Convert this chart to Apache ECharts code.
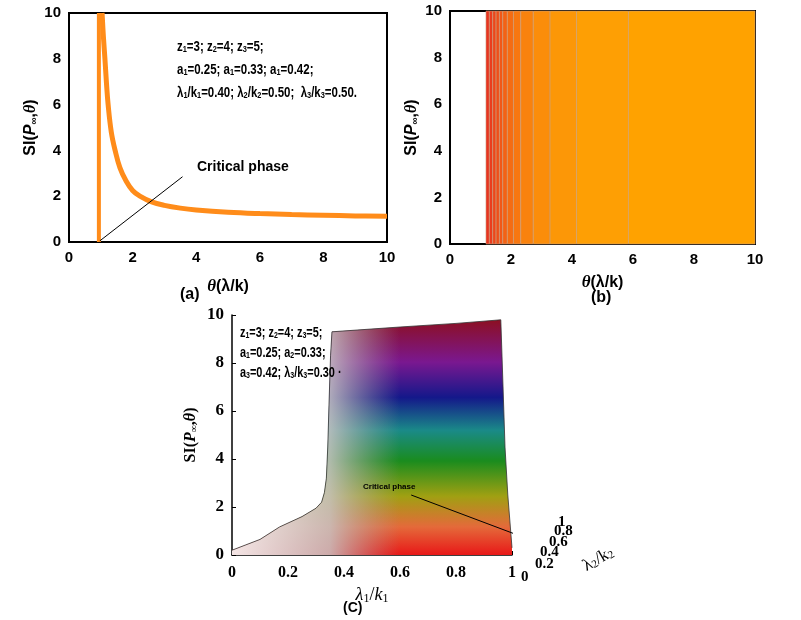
<!DOCTYPE html>
<html>
<head>
<meta charset="utf-8">
<script src="https://cdn.jsdelivr.net/npm/echarts@6/dist/echarts.min.js"></script>
<style>html,body{margin:0;background:#fff}#main{width:801px;height:620px}</style>
</head>
<body>
<div id="main"></div>
<script>
(() => {
  // panel (a): SI vs theta
  const aWall = [[0.94, 0], [0.94, 10]];
  const aCurve = [[1.04, 10], [1.08, 9], [1.13, 8], [1.18, 6.9], [1.23, 6], [1.33, 4.8], [1.45, 4],
    [1.6, 3.25], [1.8, 2.65], [2.0, 2.25], [2.23, 2.0], [2.6, 1.75], [3.0, 1.6], [3.5, 1.48],
    [4.0, 1.4], [5.0, 1.3], [6.0, 1.24], [7.0, 1.2], [8.0, 1.17], [9.0, 1.14], [10.0, 1.12]];
  const aCritical = [[0.97, 0.05], [3.57, 2.85]];

  // panel (b): vertical bands (theta boundaries), red -> orange
  const bBounds = [1.18, 1.29, 1.40, 1.51, 1.62, 1.73, 1.88, 2.08, 2.32, 2.73, 3.28, 4.15, 5.85, 10];
  const bColors = ['#e8341f', '#ea3d1d', '#ed461b', '#ef4f19', '#f15817', '#f36215', '#f56c12',
    '#f77710', '#f9820d', '#fb8d0a', '#fc9707', '#fe9f04', '#ffa200'];

  // panel (c): front profile of the surface
  const cSurface = [[0, 0.2], [0.1, 0.65], [0.17, 1.17], [0.25, 1.6], [0.3, 1.95], [0.32, 2.2],
    [0.33, 2.6], [0.337, 3.2], [0.342, 4.5], [0.347, 6.5], [0.352, 8.3], [0.357, 9.3], [0.6, 9.5],
    [0.8, 9.65], [0.96, 9.8], [0.968, 7], [0.975, 4.5], [0.985, 2.5], [1.0, 0.3]];
  const cCritical = [[0.64, 2.5], [1.05, 0.7]];
  const lam2Ticks = ['0', '0.2', '0.4', '0.6', '0.8', '1'];

  const chart = echarts.init(document.getElementById('main'));
  const sans = 'Liberation Sans';
  const serif = 'Liberation Serif';
  const siName = (family) => ({
    name: 'SI({p|P}{s|∞},{t|θ})',
    nameTextStyle: {
      fontFamily: family, fontWeight: 'bold', fontSize: 16, color: '#000',
      rich: {
        p: { fontFamily: family, fontStyle: 'italic', fontWeight: 'bold', fontSize: 16 },
        s: { fontFamily: family, fontSize: 10, fontWeight: 'bold', padding: [6, 0, 0, 0] },
        t: { fontFamily: serif, fontStyle: 'italic', fontSize: 16 },
      },
    },
  });
  const thetaName = {
    name: '{t|θ}(λ/k)',
    nameLocation: 'middle',
    nameTextStyle: {
      fontFamily: sans, fontWeight: 'bold', fontSize: 16, color: '#000',
      rich: { t: { fontFamily: serif, fontStyle: 'italic', fontSize: 17 } },
    },
  };
  const tickLabel = { fontFamily: sans, fontWeight: 'bold', fontSize: 15, color: '#000' };
  const boxAxis = { show: true, lineStyle: { color: '#000', width: 2 } };

  const sub = { fontFamily: sans, fontWeight: 'bold', fontSize: 9, padding: [5, 0, 0, 0] };
  function noteText(lines, x, y, size, lh, sx) {
    return {
      type: 'text', x: x, y: y, scaleX: sx, z: 100,
      style: {
        text: lines.join('\n'),
        fontFamily: sans, fontWeight: 'bold', fontSize: size, lineHeight: lh, fill: '#000',
        rich: { s: sub },
      },
    };
  }
  const txt = (x, y, text, size, family, extra) => Object.assign({
    type: 'text', left: x, top: y, z: 100,
    style: { text: text, fontFamily: family || sans, fontWeight: 'bold', fontSize: size, fill: '#000' },
  }, extra || {});

  const graphics = [
    noteText([
      'z{s|1}=3; z{s|2}=4; z{s|3}=5;',
      'a{s|1}=0.25; a{s|1}=0.33; a{s|1}=0.42;',
      'λ{s|1}/k{s|1}=0.40; λ{s|2}/k{s|2}=0.50;  λ{s|3}/k{s|3}=0.50.',
    ], 177, 36, 14, 23, 0.82),
    noteText([
      'z{s|1}=3; z{s|2}=4; z{s|3}=5;',
      'a{s|1}=0.25; a{s|2}=0.33;',
      'a{s|3}=0.42; λ{s|3}/k{s|3}=0.30 ·',
    ], 240, 323, 14, 20, 0.78),
    txt(180, 287, '(a)', 16),
    txt(591, 290, '(b)', 16),
    txt(343, 601, '(C)', 14),
    txt(363, 483, 'Critical phase', 8),
    txt(197, 160, 'Critical phase', 14),
    {
      type: 'text', x: 580, y: 560, rotation: Math.PI / 6, z: 100,
      style: { text: 'λ{s|2}/k{s|2}', fontFamily: serif, fontSize: 17, fill: '#000',
        rich: { s: { fontFamily: serif, fontSize: 11, padding: [6, 0, 0, 0] } } },
    },
  ];
  const lamPos = [[521, 570], [535, 557], [540, 545], [549, 535], [554, 524], [558, 515]];
  lam2Ticks.forEach((t, i) => {
    graphics.push(txt(lamPos[i][0], lamPos[i][1], t, 15, serif));
  });

  const bandData = bColors.map((c, i) => [bBounds[i], bBounds[i + 1], i]);

  chart.setOption({
    animation: false,
    backgroundColor: '#fff',
    grid: [
      { left: 69, top: 13, width: 318, height: 229, show: true, borderColor: '#000', borderWidth: 2 },
      { left: 450, top: 11, width: 305, height: 233, show: true, borderColor: '#000', borderWidth: 2 },
      { left: 232, top: 315, width: 280, height: 240 },
    ],
    xAxis: [
      Object.assign({ gridIndex: 0, type: 'value', min: 0, max: 10, interval: 2, nameGap: 36,
        axisLine: boxAxis, axisTick: { show: false }, splitLine: { show: false }, axisLabel: tickLabel }, thetaName),
      Object.assign({ gridIndex: 1, type: 'value', min: 0, max: 10, interval: 2, nameGap: 30,
        axisLine: boxAxis, axisTick: { show: false }, splitLine: { show: false }, axisLabel: tickLabel }, thetaName),
      {
        gridIndex: 2, type: 'value', min: 0, max: 1, interval: 0.2,
        name: '{i|λ}{s|1}/{i|k}{s|1}', nameLocation: 'middle', nameGap: 30,
        nameTextStyle: { fontFamily: serif, fontSize: 18, color: '#000',
          rich: { i: { fontFamily: serif, fontStyle: 'italic', fontSize: 18 },
            s: { fontFamily: serif, fontSize: 12, padding: [8, 0, 0, 0] } } },
        axisLine: { show: true, lineStyle: { color: '#000', width: 1.5 } },
        axisTick: { show: true, inside: true, length: 4, lineStyle: { color: '#000' } },
        splitLine: { show: false },
        axisLabel: { fontFamily: serif, fontWeight: 'bold', fontSize: 16, color: '#000', margin: 10 },
      },
    ],
    yAxis: [
      Object.assign({ gridIndex: 0, type: 'value', min: 0, max: 10, interval: 2, nameLocation: 'middle', nameGap: 30,
        axisLine: boxAxis, axisTick: { show: false }, splitLine: { show: false }, axisLabel: tickLabel }, siName(sans)),
      Object.assign({ gridIndex: 1, type: 'value', min: 0, max: 10, interval: 2, nameLocation: 'middle', nameGap: 30,
        axisLine: boxAxis, axisTick: { show: false }, splitLine: { show: false }, axisLabel: tickLabel }, siName(sans)),
      Object.assign({ gridIndex: 2, type: 'value', min: 0, max: 10, interval: 2, nameLocation: 'middle', nameGap: 33,
        axisLine: { show: true, lineStyle: { color: '#000', width: 1.5 } },
        axisTick: { show: true, inside: true, length: 4, lineStyle: { color: '#000' } },
        splitLine: { show: false },
        axisLabel: { fontFamily: serif, fontWeight: 'bold', fontSize: 17, color: '#000', margin: 8 } }, siName(serif)),
    ],
    series: [
      { type: 'line', xAxisIndex: 0, yAxisIndex: 0, data: aWall, showSymbol: false,
        lineStyle: { color: '#ff8c1a', width: 4 } },
      { type: 'line', xAxisIndex: 0, yAxisIndex: 0, data: aCurve, showSymbol: false, smooth: 0.4,
        lineStyle: { color: '#ff8c1a', width: 5 } },
      { type: 'line', xAxisIndex: 0, yAxisIndex: 0, data: aCritical, showSymbol: false,
        lineStyle: { color: '#000', width: 1 } },
      {
        type: 'custom', xAxisIndex: 1, yAxisIndex: 1, data: bandData,
        renderItem: (params, api) => {
          const p0 = api.coord([api.value(0), 10]);
          const p1 = api.coord([api.value(1), 0]);
          return {
            type: 'rect',
            shape: { x: p0[0], y: p0[1], width: p1[0] - p0[0], height: p1[1] - p0[1] },
            style: { fill: bColors[api.value(2)], stroke: '#c8a080', lineWidth: 0.6 },
          };
        },
        encode: { x: [0, 1] },
      },
      {
        type: 'line', xAxisIndex: 2, yAxisIndex: 2, data: cSurface, showSymbol: false,
        lineStyle: { color: '#333', width: 0.8 },
        areaStyle: {
          opacity: 1,
          color: { type: 'linear', x: 0, y: 0, x2: 0, y2: 1, colorStops: [
            { offset: 0, color: '#8c0f22' }, { offset: 0.18, color: '#7a1890' },
            { offset: 0.33, color: '#14188a' }, { offset: 0.47, color: '#1a8a88' },
            { offset: 0.6, color: '#1a8c1e' }, { offset: 0.75, color: '#a0a012' },
            { offset: 0.88, color: '#e46a3a' }, { offset: 1, color: '#e81818' } ] },
        },
      },
      {
        type: 'line', xAxisIndex: 2, yAxisIndex: 2, data: cSurface, showSymbol: false,
        lineStyle: { width: 0 },
        areaStyle: {
          opacity: 1,
          color: { type: 'linear', x: 0, y: 0, x2: 1, y2: 0, colorStops: [
            { offset: 0, color: 'rgba(245,240,240,0.95)' }, { offset: 0.35, color: 'rgba(200,195,195,0.85)' },
            { offset: 0.6, color: 'rgba(170,160,160,0)' }, { offset: 1, color: 'rgba(170,160,160,0)' } ] },
        },
      },
      { type: 'line', xAxisIndex: 2, yAxisIndex: 2, data: cCritical, showSymbol: false, clip: false,
        lineStyle: { color: '#000', width: 1 } },
    ],
    graphic: graphics,
  });
})();
</script>
</body>
</html>
